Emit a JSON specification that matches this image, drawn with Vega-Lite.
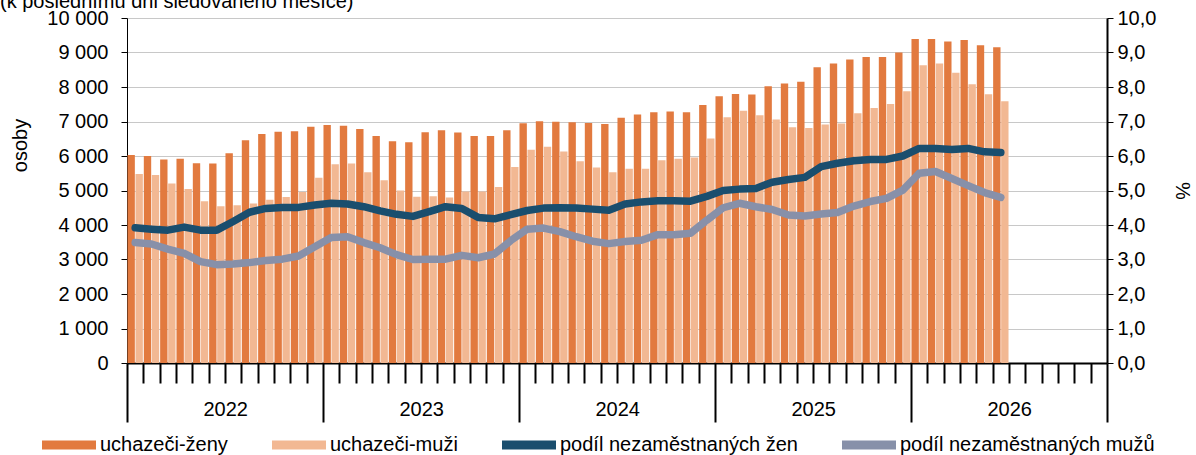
{
  "$schema": "https://vega.github.io/schema/vega-lite/v6.json",
  "width": 980,
  "height": 345,
  "autosize": {"type": "none"},
  "padding": {"left": 127, "top": 18, "right": 89, "bottom": 92},
  "title": {"text": "(k poslednímu dni sledovaného měsíce)", "anchor": "start", "frame": "group", "dx": -127, "dy": 20, "offset": 0, "baseline": "alphabetic", "fontSize": 20, "fontWeight": "normal", "color": "#000000", "font": "Liberation Sans"},
  "datasets": {
    "bars": [
      {"m":"2022-01","s":"uchazeči-ženy","v":6030},{"m":"2022-01","s":"uchazeči-muži","v":5480},
      {"m":"2022-02","s":"uchazeči-ženy","v":6000},{"m":"2022-02","s":"uchazeči-muži","v":5450},
      {"m":"2022-03","s":"uchazeči-ženy","v":5900},{"m":"2022-03","s":"uchazeči-muži","v":5200},
      {"m":"2022-04","s":"uchazeči-ženy","v":5920},{"m":"2022-04","s":"uchazeči-muži","v":5040},
      {"m":"2022-05","s":"uchazeči-ženy","v":5790},{"m":"2022-05","s":"uchazeči-muži","v":4690},
      {"m":"2022-06","s":"uchazeči-ženy","v":5780},{"m":"2022-06","s":"uchazeči-muži","v":4540},
      {"m":"2022-07","s":"uchazeči-ženy","v":6080},{"m":"2022-07","s":"uchazeči-muži","v":4570},
      {"m":"2022-08","s":"uchazeči-ženy","v":6460},{"m":"2022-08","s":"uchazeči-muži","v":4620},
      {"m":"2022-09","s":"uchazeči-ženy","v":6640},{"m":"2022-09","s":"uchazeči-muži","v":4730},
      {"m":"2022-10","s":"uchazeči-ženy","v":6700},{"m":"2022-10","s":"uchazeči-muži","v":4810},
      {"m":"2022-11","s":"uchazeči-ženy","v":6720},{"m":"2022-11","s":"uchazeči-muži","v":4960},
      {"m":"2022-12","s":"uchazeči-ženy","v":6850},{"m":"2022-12","s":"uchazeči-muži","v":5370},
      {"m":"2023-01","s":"uchazeči-ženy","v":6900},{"m":"2023-01","s":"uchazeči-muži","v":5760},
      {"m":"2023-02","s":"uchazeči-ženy","v":6880},{"m":"2023-02","s":"uchazeči-muži","v":5780},
      {"m":"2023-03","s":"uchazeči-ženy","v":6780},{"m":"2023-03","s":"uchazeči-muži","v":5530},
      {"m":"2023-04","s":"uchazeči-ženy","v":6580},{"m":"2023-04","s":"uchazeči-muži","v":5300},
      {"m":"2023-05","s":"uchazeči-ženy","v":6430},{"m":"2023-05","s":"uchazeči-muži","v":5000},
      {"m":"2023-06","s":"uchazeči-ženy","v":6400},{"m":"2023-06","s":"uchazeči-muži","v":4820},
      {"m":"2023-07","s":"uchazeči-ženy","v":6690},{"m":"2023-07","s":"uchazeči-muži","v":4830},
      {"m":"2023-08","s":"uchazeči-ženy","v":6750},{"m":"2023-08","s":"uchazeči-muži","v":4800},
      {"m":"2023-09","s":"uchazeči-ženy","v":6680},{"m":"2023-09","s":"uchazeči-muži","v":4970},
      {"m":"2023-10","s":"uchazeči-ženy","v":6580},{"m":"2023-10","s":"uchazeči-muži","v":4970},
      {"m":"2023-11","s":"uchazeči-ženy","v":6580},{"m":"2023-11","s":"uchazeči-muži","v":5100},
      {"m":"2023-12","s":"uchazeči-ženy","v":6750},{"m":"2023-12","s":"uchazeči-muži","v":5680},
      {"m":"2024-01","s":"uchazeči-ženy","v":6950},{"m":"2024-01","s":"uchazeči-muži","v":6180},
      {"m":"2024-02","s":"uchazeči-ženy","v":7010},{"m":"2024-02","s":"uchazeči-muži","v":6270},
      {"m":"2024-03","s":"uchazeči-ženy","v":6990},{"m":"2024-03","s":"uchazeči-muži","v":6130},
      {"m":"2024-04","s":"uchazeči-ženy","v":6980},{"m":"2024-04","s":"uchazeči-muži","v":5850},
      {"m":"2024-05","s":"uchazeči-ženy","v":6960},{"m":"2024-05","s":"uchazeči-muži","v":5670},
      {"m":"2024-06","s":"uchazeči-ženy","v":6930},{"m":"2024-06","s":"uchazeči-muži","v":5530},
      {"m":"2024-07","s":"uchazeči-ženy","v":7110},{"m":"2024-07","s":"uchazeči-muži","v":5630},
      {"m":"2024-08","s":"uchazeči-ženy","v":7200},{"m":"2024-08","s":"uchazeči-muži","v":5630},
      {"m":"2024-09","s":"uchazeči-ženy","v":7270},{"m":"2024-09","s":"uchazeči-muži","v":5880},
      {"m":"2024-10","s":"uchazeči-ženy","v":7290},{"m":"2024-10","s":"uchazeči-muži","v":5920},
      {"m":"2024-11","s":"uchazeči-ženy","v":7270},{"m":"2024-11","s":"uchazeči-muži","v":5960},
      {"m":"2024-12","s":"uchazeči-ženy","v":7480},{"m":"2024-12","s":"uchazeči-muži","v":6510},
      {"m":"2025-01","s":"uchazeči-ženy","v":7730},{"m":"2025-01","s":"uchazeči-muži","v":7120},
      {"m":"2025-02","s":"uchazeči-ženy","v":7800},{"m":"2025-02","s":"uchazeči-muži","v":7310},
      {"m":"2025-03","s":"uchazeči-ženy","v":7780},{"m":"2025-03","s":"uchazeči-muži","v":7180},
      {"m":"2025-04","s":"uchazeči-ženy","v":8020},{"m":"2025-04","s":"uchazeči-muži","v":7060},
      {"m":"2025-05","s":"uchazeči-ženy","v":8100},{"m":"2025-05","s":"uchazeči-muži","v":6830},
      {"m":"2025-06","s":"uchazeči-ženy","v":8150},{"m":"2025-06","s":"uchazeči-muži","v":6810},
      {"m":"2025-07","s":"uchazeči-ženy","v":8570},{"m":"2025-07","s":"uchazeči-muži","v":6910},
      {"m":"2025-08","s":"uchazeči-ženy","v":8680},{"m":"2025-08","s":"uchazeči-muži","v":6940},
      {"m":"2025-09","s":"uchazeči-ženy","v":8800},{"m":"2025-09","s":"uchazeči-muži","v":7240},
      {"m":"2025-10","s":"uchazeči-ženy","v":8870},{"m":"2025-10","s":"uchazeči-muži","v":7390},
      {"m":"2025-11","s":"uchazeči-ženy","v":8870},{"m":"2025-11","s":"uchazeči-muži","v":7510},
      {"m":"2025-12","s":"uchazeči-ženy","v":9000},{"m":"2025-12","s":"uchazeči-muži","v":7880},
      {"m":"2026-01","s":"uchazeči-ženy","v":9390},{"m":"2026-01","s":"uchazeči-muži","v":8630},
      {"m":"2026-02","s":"uchazeči-ženy","v":9390},{"m":"2026-02","s":"uchazeči-muži","v":8680},
      {"m":"2026-03","s":"uchazeči-ženy","v":9320},{"m":"2026-03","s":"uchazeči-muži","v":8410},
      {"m":"2026-04","s":"uchazeči-ženy","v":9360},{"m":"2026-04","s":"uchazeči-muži","v":8080},
      {"m":"2026-05","s":"uchazeči-ženy","v":9210},{"m":"2026-05","s":"uchazeči-muži","v":7790},
      {"m":"2026-06","s":"uchazeči-ženy","v":9150},{"m":"2026-06","s":"uchazeči-muži","v":7590}
    ],
    "lines": [
      {"m":"2022-01","s":"podíl nezaměstnaných žen","v":3.92},{"m":"2022-01","s":"podíl nezaměstnaných mužů","v":3.49},
      {"m":"2022-02","s":"podíl nezaměstnaných žen","v":3.88},{"m":"2022-02","s":"podíl nezaměstnaných mužů","v":3.45},
      {"m":"2022-03","s":"podíl nezaměstnaných žen","v":3.85},{"m":"2022-03","s":"podíl nezaměstnaných mužů","v":3.30},
      {"m":"2022-04","s":"podíl nezaměstnaných žen","v":3.94},{"m":"2022-04","s":"podíl nezaměstnaných mužů","v":3.18},
      {"m":"2022-05","s":"podíl nezaměstnaných žen","v":3.85},{"m":"2022-05","s":"podíl nezaměstnaných mužů","v":2.94},
      {"m":"2022-06","s":"podíl nezaměstnaných žen","v":3.85},{"m":"2022-06","s":"podíl nezaměstnaných mužů","v":2.85},
      {"m":"2022-07","s":"podíl nezaměstnaných žen","v":4.10},{"m":"2022-07","s":"podíl nezaměstnaných mužů","v":2.87},
      {"m":"2022-08","s":"podíl nezaměstnaných žen","v":4.37},{"m":"2022-08","s":"podíl nezaměstnaných mužů","v":2.91},
      {"m":"2022-09","s":"podíl nezaměstnaných žen","v":4.48},{"m":"2022-09","s":"podíl nezaměstnaných mužů","v":2.97},
      {"m":"2022-10","s":"podíl nezaměstnaných žen","v":4.51},{"m":"2022-10","s":"podíl nezaměstnaných mužů","v":3.01},
      {"m":"2022-11","s":"podíl nezaměstnaných žen","v":4.51},{"m":"2022-11","s":"podíl nezaměstnaných mužů","v":3.10},
      {"m":"2022-12","s":"podíl nezaměstnaných žen","v":4.58},{"m":"2022-12","s":"podíl nezaměstnaných mužů","v":3.37},
      {"m":"2023-01","s":"podíl nezaměstnaných žen","v":4.63},{"m":"2023-01","s":"podíl nezaměstnaných mužů","v":3.64},
      {"m":"2023-02","s":"podíl nezaměstnaných žen","v":4.61},{"m":"2023-02","s":"podíl nezaměstnaných mužů","v":3.66},
      {"m":"2023-03","s":"podíl nezaměstnaných žen","v":4.53},{"m":"2023-03","s":"podíl nezaměstnaných mužů","v":3.49},
      {"m":"2023-04","s":"podíl nezaměstnaných žen","v":4.41},{"m":"2023-04","s":"podíl nezaměstnaných mužů","v":3.34},
      {"m":"2023-05","s":"podíl nezaměstnaných žen","v":4.31},{"m":"2023-05","s":"podíl nezaměstnaných mužů","v":3.14},
      {"m":"2023-06","s":"podíl nezaměstnaných žen","v":4.25},{"m":"2023-06","s":"podíl nezaměstnaných mužů","v":3.00},
      {"m":"2023-07","s":"podíl nezaměstnaných žen","v":4.39},{"m":"2023-07","s":"podíl nezaměstnaných mužů","v":3.01},
      {"m":"2023-08","s":"podíl nezaměstnaných žen","v":4.53},{"m":"2023-08","s":"podíl nezaměstnaných mužů","v":3.01},
      {"m":"2023-09","s":"podíl nezaměstnaných žen","v":4.48},{"m":"2023-09","s":"podíl nezaměstnaných mužů","v":3.12},
      {"m":"2023-10","s":"podíl nezaměstnaných žen","v":4.22},{"m":"2023-10","s":"podíl nezaměstnaných mužů","v":3.05},
      {"m":"2023-11","s":"podíl nezaměstnaných žen","v":4.18},{"m":"2023-11","s":"podíl nezaměstnaných mužů","v":3.16},
      {"m":"2023-12","s":"podíl nezaměstnaných žen","v":4.30},{"m":"2023-12","s":"podíl nezaměstnaných mužů","v":3.55},
      {"m":"2024-01","s":"podíl nezaměstnaných žen","v":4.42},{"m":"2024-01","s":"podíl nezaměstnaných mužů","v":3.88},
      {"m":"2024-02","s":"podíl nezaměstnaných žen","v":4.49},{"m":"2024-02","s":"podíl nezaměstnaných mužů","v":3.91},
      {"m":"2024-03","s":"podíl nezaměstnaných žen","v":4.50},{"m":"2024-03","s":"podíl nezaměstnaných mužů","v":3.81},
      {"m":"2024-04","s":"podíl nezaměstnaných žen","v":4.49},{"m":"2024-04","s":"podíl nezaměstnaných mužů","v":3.66},
      {"m":"2024-05","s":"podíl nezaměstnaných žen","v":4.46},{"m":"2024-05","s":"podíl nezaměstnaných mužů","v":3.53},
      {"m":"2024-06","s":"podíl nezaměstnaných žen","v":4.43},{"m":"2024-06","s":"podíl nezaměstnaných mužů","v":3.46},
      {"m":"2024-07","s":"podíl nezaměstnaných žen","v":4.61},{"m":"2024-07","s":"podíl nezaměstnaných mužů","v":3.52},
      {"m":"2024-08","s":"podíl nezaměstnaných žen","v":4.67},{"m":"2024-08","s":"podíl nezaměstnaných mužů","v":3.56},
      {"m":"2024-09","s":"podíl nezaměstnaných žen","v":4.70},{"m":"2024-09","s":"podíl nezaměstnaných mužů","v":3.72},
      {"m":"2024-10","s":"podíl nezaměstnaných žen","v":4.70},{"m":"2024-10","s":"podíl nezaměstnaných mužů","v":3.72},
      {"m":"2024-11","s":"podíl nezaměstnaných žen","v":4.69},{"m":"2024-11","s":"podíl nezaměstnaných mužů","v":3.76},
      {"m":"2024-12","s":"podíl nezaměstnaných žen","v":4.83},{"m":"2024-12","s":"podíl nezaměstnaných mužů","v":4.14},
      {"m":"2025-01","s":"podíl nezaměstnaných žen","v":5.00},{"m":"2025-01","s":"podíl nezaměstnaných mužů","v":4.50},
      {"m":"2025-02","s":"podíl nezaměstnaných žen","v":5.04},{"m":"2025-02","s":"podíl nezaměstnaných mužů","v":4.63},
      {"m":"2025-03","s":"podíl nezaměstnaných žen","v":5.06},{"m":"2025-03","s":"podíl nezaměstnaných mužů","v":4.53},
      {"m":"2025-04","s":"podíl nezaměstnaných žen","v":5.24},{"m":"2025-04","s":"podíl nezaměstnaných mužů","v":4.45},
      {"m":"2025-05","s":"podíl nezaměstnaných žen","v":5.32},{"m":"2025-05","s":"podíl nezaměstnaných mužů","v":4.29},
      {"m":"2025-06","s":"podíl nezaměstnaných žen","v":5.38},{"m":"2025-06","s":"podíl nezaměstnaných mužů","v":4.26},
      {"m":"2025-07","s":"podíl nezaměstnaných žen","v":5.69},{"m":"2025-07","s":"podíl nezaměstnaných mužů","v":4.32},
      {"m":"2025-08","s":"podíl nezaměstnaných žen","v":5.79},{"m":"2025-08","s":"podíl nezaměstnaných mužů","v":4.36},
      {"m":"2025-09","s":"podíl nezaměstnaných žen","v":5.86},{"m":"2025-09","s":"podíl nezaměstnaných mužů","v":4.55},
      {"m":"2025-10","s":"podíl nezaměstnaných žen","v":5.90},{"m":"2025-10","s":"podíl nezaměstnaných mužů","v":4.68},
      {"m":"2025-11","s":"podíl nezaměstnaných žen","v":5.90},{"m":"2025-11","s":"podíl nezaměstnaných mužů","v":4.77},
      {"m":"2025-12","s":"podíl nezaměstnaných žen","v":6.00},{"m":"2025-12","s":"podíl nezaměstnaných mužů","v":5.01},
      {"m":"2026-01","s":"podíl nezaměstnaných žen","v":6.22},{"m":"2026-01","s":"podíl nezaměstnaných mužů","v":5.50},
      {"m":"2026-02","s":"podíl nezaměstnaných žen","v":6.22},{"m":"2026-02","s":"podíl nezaměstnaných mužů","v":5.55},
      {"m":"2026-03","s":"podíl nezaměstnaných žen","v":6.19},{"m":"2026-03","s":"podíl nezaměstnaných mužů","v":5.35},
      {"m":"2026-04","s":"podíl nezaměstnaných žen","v":6.22},{"m":"2026-04","s":"podíl nezaměstnaných mužů","v":5.14},
      {"m":"2026-05","s":"podíl nezaměstnaných žen","v":6.12},{"m":"2026-05","s":"podíl nezaměstnaných mužů","v":4.94},
      {"m":"2026-06","s":"podíl nezaměstnaných žen","v":6.10},{"m":"2026-06","s":"podíl nezaměstnaných mužů","v":4.80}
    ]
  },
  "layer": [
    {
      "data": {"name": "bars"},
      "mark": {"type": "bar"},
      "encoding": {
        "x": {
          "field": "m", "type": "ordinal",
          "scale": {
            "domain": ["2022-01","2022-02","2022-03","2022-04","2022-05","2022-06","2022-07","2022-08","2022-09","2022-10","2022-11","2022-12",
                       "2023-01","2023-02","2023-03","2023-04","2023-05","2023-06","2023-07","2023-08","2023-09","2023-10","2023-11","2023-12",
                       "2024-01","2024-02","2024-03","2024-04","2024-05","2024-06","2024-07","2024-08","2024-09","2024-10","2024-11","2024-12",
                       "2025-01","2025-02","2025-03","2025-04","2025-05","2025-06","2025-07","2025-08","2025-09","2025-10","2025-11","2025-12",
                       "2026-01","2026-02","2026-03","2026-04","2026-05","2026-06","2026-07","2026-08","2026-09","2026-10","2026-11","2026-12"],
            "paddingInner": 0, "paddingOuter": 0
          },
          "axis": {
            "title": null,
            "tickBand": "extent",
            "labelAngle": 0,
            "labelExpr": "isString(datum.value) && slice(datum.value, 5) == '07' ? slice(datum.value, 0, 4) : ''",
            "labelOffset": -8,
            "labelPadding": 16,
            "labelOverlap": false,
            "labelFlush": false,
            "tickSize": {"condition": {"test": "!isString(datum.value) || datum.index < 0 || slice(datum.value, 5) == '12'", "value": 59}, "value": 20},
            "tickWidth": 2,
            "tickColor": "#000000",
            "domainColor": "#000000",
            "domainWidth": 2,
            "grid": false
          }
        },
        "xOffset": {"field": "s", "type": "nominal", "scale": {"domain": ["uchazeči-ženy", "uchazeči-muži"], "paddingInner": 0.08, "paddingOuter": 0.06}},
        "y": {
          "field": "v", "type": "quantitative",
          "scale": {"domain": [0, 10000], "nice": false},
          "axis": {
            "values": [0, 1000, 2000, 3000, 4000, 5000, 6000, 7000, 8000, 9000, 10000],
            "labelExpr": "replace(format(datum.value, ',d'), ',', ' ')",
            "title": "osoby",
            "titleX": -97,
            "titleY": 127,
            "tickSize": 6,
            "labelPadding": 13,
            "domainColor": "#000000",
            "domainWidth": 1,
            "tickColor": "#000000",
            "grid": true,
            "gridColor": "#c8c8c8",
            "gridWidth": 1
          }
        },
        "color": {
          "field": "s", "type": "nominal",
          "scale": {
            "domain": ["uchazeči-ženy", "uchazeči-muži", "podíl nezaměstnaných žen", "podíl nezaměstnaných mužů"],
            "range": ["#E27A3F", "#F2B893", "#1A4E6E", "#8790A9"]
          },
          "legend": {
            "orient": "none",
            "legendX": -85,
            "legendY": 400,
            "direction": "horizontal",
            "title": null,
            "symbolType": "M-1,-0.17H1V0.17H-1Z",
            "symbolSize": 2916,
            "symbolStrokeWidth": 0,
            "labelOffset": 4,
            "labelLimit": 0,
            "columnPadding": 44,
            "padding": 0
          }
        }
      }
    },
    {
      "data": {"name": "lines"},
      "mark": {"type": "line", "strokeWidth": 7.5, "strokeCap": "round", "strokeJoin": "round"},
      "encoding": {
        "x": {"field": "m", "type": "ordinal"},
        "y": {
          "field": "v", "type": "quantitative",
          "scale": {"domain": [0, 10], "nice": false},
          "axis": {
            "orient": "right",
            "values": [0, 1, 2, 3, 4, 5, 6, 7, 8, 9, 10],
            "labelExpr": "replace(format(datum.value, '.1f'), '.', ',')",
            "title": "%",
            "titlePadding": 16,
            "tickSize": 6,
            "labelPadding": 4,
            "domainColor": "#000000",
            "domainWidth": 2,
            "tickColor": "#000000",
            "grid": false
          }
        },
        "stroke": {
          "field": "s", "type": "nominal",
          "scale": {"domain": ["podíl nezaměstnaných žen", "podíl nezaměstnaných mužů"], "range": ["#1A4E6E", "#8790A9"]},
          "legend": null
        }
      }
    }
  ],
  "resolve": {"scale": {"y": "independent"}},
  "config": {
    "font": "Liberation Sans",
    "view": {"stroke": null},
    "axis": {"labelFontSize": 20, "titleFontSize": 20, "labelColor": "#000000", "titleColor": "#000000", "titleFontWeight": "normal", "labelFont": "Liberation Sans", "titleFont": "Liberation Sans"},
    "legend": {"labelFontSize": 20, "labelColor": "#000000", "labelFont": "Liberation Sans", "labelLimit": 0}
  }
}
